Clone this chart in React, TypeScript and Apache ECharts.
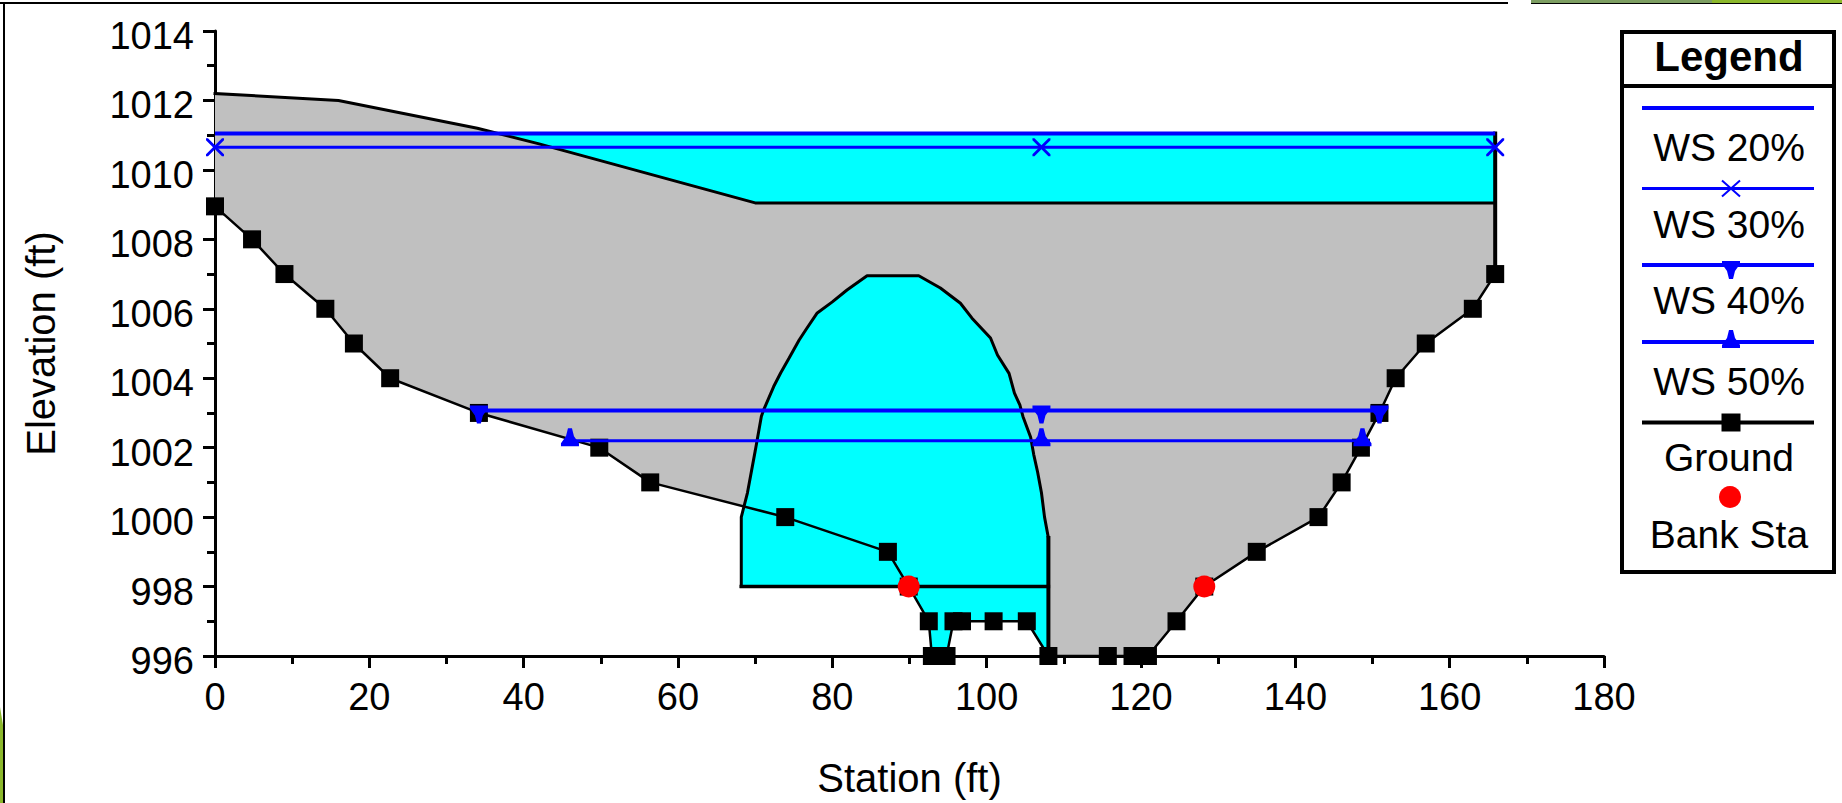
import React, { useEffect, useRef } from "react";
import * as echarts from "echarts";

type Pt = [number, number];

const xTicks = { min: 0, max: 180, interval: 20 };
const yTicks = { min: 996, max: 1014, interval: 2 };

const groundPts: Pt[] = [
  [0, 1008.95], [4.8, 1008], [9, 1007], [14.3, 1006], [18, 1005], [22.7, 1004], [34.2, 1003],
  [49.8, 1002], [56.4, 1001], [73.9, 1000], [87.2, 999], [89.9, 998], [92.5, 997], [92.9, 996],
  [94.8, 996], [95.7, 997], [96.8, 997], [100.9, 997], [105.2, 997], [108, 996], [115.7, 996],
  [118.9, 996], [120.9, 996], [124.6, 997], [128.2, 998], [135, 999], [143, 1000], [146, 1001],
  [148.5, 1002], [150.9, 1003], [153, 1004], [156.9, 1005], [163, 1006], [165.9, 1007],
];
const bankPts: Pt[] = [[89.9, 998], [128.2, 998]];
const roadPts: Pt[] = [[0, 1012.2], [16, 1012], [34, 1011.2], [42, 1010.75], [70, 1009.05], [165.9, 1009.05]];
const rightWall: Pt[] = [[165.9, 1011.05], [165.9, 1007]];
const archPts: Pt[] = [
  [68.2, 998], [68.2, 1000], [69, 1000.7], [70, 1001.9], [70.8, 1002.9], [71.1, 1003.09], [72.4, 1003.76],
  [73.3, 1004.15], [74.4, 1004.58], [75.7, 1005.1], [76.7, 1005.44], [78, 1005.87], [80, 1006.2],
  [81.9, 1006.54], [84.5, 1006.95], [91.2, 1006.95], [94, 1006.6], [96.6, 1006.16], [98.1, 1005.73],
  [100.5, 1005.16], [101.4, 1004.67], [102.9, 1004.14], [103.6, 1003.57], [104.3, 1003.23], [104.7, 1002.9],
  [105.7, 1002.3], [106.1, 1001.8], [106.6, 1001.3], [107.1, 1000.7], [107.5, 1000], [108, 999.4], [108, 998],
];
const archFloor: Pt[] = [[68.2, 998], [108, 998]];
const archWall: Pt[] = [[108, 999.4], [108, 996]];
const channelPts: Pt[] = [[108, 996], [105.2, 997], [96.8, 997], [95.7, 997], [94.8, 996], [92.9, 996], [92.5, 997], [89.9, 998]];
const waterTop: Pt[] = [[36.7, 1011.05], [165.9, 1011.05], [165.9, 1009.05], [70, 1009.05], [42, 1010.75]];

const ws20: Pt[] = [[0, 1011.05], [165.9, 1011.05]];
const ws30: Pt[] = [[0, 1010.65], [107.1, 1010.65], [165.9, 1010.65]];
const ws40: Pt[] = [[34.2, 1003.07], [107.1, 1003.07], [150.9, 1003.07]];
const ws50: Pt[] = [[46, 1002.2], [107.1, 1002.2], [148.7, 1002.2]];

const legendLabels = ["WS 20%", "WS 30%", "WS 40%", "WS 50%", "Ground", "Bank Sta"];

const BLUE = "#0000ff";
const STAR = "path://M0 0L2 0L9 7L16 0L18 0L18 2L11 9L18 16L18 18L16 18L9 11L2 18L0 18L0 16L7 9L0 2Z";
const DOWN = "path://M0 0L18 0L18 3L13 10L11 18L7 18L5 10L0 3Z";
const UP = "path://M0 18L18 18L18 15L13 8L11 0L7 0L5 8L0 15Z";
const FONT = "Liberation Sans";

function polygonSeries(points: Pt[], fill: string, z: number) {
  return {
    type: "custom",
    silent: true,
    z,
    coordinateSystem: "cartesian2d",
    data: [points[0]],
    renderItem: (_p: any, api: any) => ({
      type: "polygon",
      shape: { points: points.map((q) => api.coord(q)) },
      style: { fill, stroke: "none" },
    }),
  };
}
function outline(points: Pt[], width = 3, z = 3) {
  return {
    type: "line",
    data: points,
    silent: true,
    z,
    symbol: "none",
    lineStyle: { color: "#000", width, cap: "square" },
  };
}
function wsLine(name: string, points: Pt[], width: number, symbol: string, offset: number) {
  return {
    name,
    type: "line",
    data: points,
    silent: true,
    z: 6,
    symbol,
    symbolSize: 18,
    symbolOffset: [0, offset],
    showAllSymbol: true,
    itemStyle: { color: BLUE },
    lineStyle: { color: BLUE, width },
  };
}

const gray = "#c0c0c0";
const cyan = "#00ffff";

function legendGraphics() {
  const lx0 = 1642, lx1 = 1814, mx = 1731;
  const line = (y: number, w: number, c = BLUE) => ({
    type: "line",
    shape: { x1: lx0, y1: y, x2: lx1, y2: y },
    style: { stroke: c, lineWidth: w },
  });
  const label = (t: string, y: number) => ({
    type: "text",
    x: 1729,
    y,
    style: { text: t, fill: "#000", font: `39px "${FONT}"`, textAlign: "center", textVerticalAlign: "middle" },
  });
  const poly = (pts: number[][], cy: number) => ({
    type: "polygon",
    shape: { points: pts.map(([a, b]) => [mx + a - 9, cy + b - 9]) },
    style: { fill: BLUE },
  });
  const y30 = 188.5;
  return [
    { type: "rect", shape: { x: 1622, y: 32, width: 212, height: 540 }, style: { fill: "#fff", stroke: "#000", lineWidth: 4 } },
    { type: "line", shape: { x1: 1620, y1: 86, x2: 1836, y2: 86 }, style: { stroke: "#000", lineWidth: 4 } },
    { type: "text", x: 1729, y: 56, style: { text: "Legend", fill: "#000", font: `bold 42px "${FONT}"`, textAlign: "center", textVerticalAlign: "middle" } },
    line(108, 4),
    label(legendLabels[0], 147),
    line(y30, 3),
    { type: "line", shape: { x1: mx - 9, y1: y30 - 8, x2: mx + 9, y2: y30 + 8 }, style: { stroke: BLUE, lineWidth: 2 } },
    { type: "line", shape: { x1: mx - 9, y1: y30 + 8, x2: mx + 9, y2: y30 - 8 }, style: { stroke: BLUE, lineWidth: 2 } },
    label(legendLabels[1], 224),
    line(265, 4),
    poly([[0, 0], [18, 0], [18, 3], [13, 10], [11, 18], [7, 18], [5, 10], [0, 3]], 270),
    label(legendLabels[2], 300),
    line(342, 4),
    poly([[0, 18], [18, 18], [18, 15], [13, 8], [11, 0], [7, 0], [5, 8], [0, 15]], 339),
    label(legendLabels[3], 381),
    line(422.5, 4, "#000"),
    { type: "rect", shape: { x: mx - 9.5, y: 413.5, width: 19, height: 18 }, style: { fill: "#000" } },
    label(legendLabels[4], 457),
    { type: "circle", shape: { cx: 1730, cy: 497, r: 11 }, style: { fill: "#ff0000" } },
    label(legendLabels[5], 534),
  ];
}

const chromeGraphics = [
  { type: "rect", shape: { x: 0, y: 2, width: 1508, height: 2 }, style: { fill: "#000" } },
  { type: "rect", shape: { x: 1531, y: 0, width: 181, height: 3 }, style: { fill: "#7d9e62" } },
  { type: "rect", shape: { x: 1712, y: 0, width: 130, height: 3 }, style: { fill: "#8cb82c" } },
  { type: "rect", shape: { x: 1531, y: 3, width: 311, height: 1 }, style: { fill: "#000" } },
  { type: "rect", shape: { x: 3, y: 2, width: 2, height: 801 }, style: { fill: "#000" } },
  { type: "polygon", shape: { points: [[0, 707], [3, 725], [3, 803], [0, 803]] }, style: { fill: "#8cb82c" } },
];

export default function App() {
  const ref = useRef<HTMLDivElement>(null);
  useEffect(() => {
    const chart = echarts.init(ref.current!, undefined, { renderer: "svg" });
    const axisText = { color: "#000", fontFamily: FONT, fontSize: 38 };
    chart.setOption({
      animation: false,
      backgroundColor: "#fff",
      grid: { left: 215, right: 238, top: 31, bottom: 147, containLabel: false, outerBoundsMode: "none" },
      xAxis: {
        type: "value",
        ...xTicks,
        name: "Station (ft)",
        nameLocation: "middle",
        nameGap: 102,
        nameTextStyle: { color: "#000", fontFamily: FONT, fontSize: 40 },
        splitLine: { show: false },
        axisLine: { onZero: false, lineStyle: { color: "#000", width: 3 } },
        axisTick: { length: 12, lineStyle: { color: "#000", width: 3 } },
        minorTick: { show: true, splitNumber: 2, length: 8, lineStyle: { color: "#000", width: 3 } },
        axisLabel: { ...axisText, margin: 22 },
      },
      yAxis: {
        type: "value",
        ...yTicks,
        name: "Elevation (ft)",
        nameLocation: "middle",
        nameGap: 154,
        nameTextStyle: { color: "#000", fontFamily: FONT, fontSize: 40 },
        splitLine: { show: false },
        axisLine: { onZero: false, lineStyle: { color: "#000", width: 3 } },
        axisTick: { length: 12, lineStyle: { color: "#000", width: 3 } },
        minorTick: { show: true, splitNumber: 2, length: 8, lineStyle: { color: "#000", width: 3 } },
        axisLabel: { ...axisText, margin: 21, verticalAlign: "top", lineHeight: 10, formatter: (v: number) => String(v) },
      },
      series: [
        polygonSeries([...roadPts, ...rightWall.slice(1), ...[...groundPts].reverse()], gray, 1),
        polygonSeries(waterTop, cyan, 2),
        polygonSeries([...archPts, ...channelPts], cyan, 2),
        outline(roadPts),
        outline(rightWall, 4),
        outline(archPts),
        outline(archFloor, 3.5),
        outline(archWall, 4),
        {
          name: "Ground",
          type: "line",
          data: groundPts,
          silent: true,
          z: 5,
          symbol: "rect",
          symbolSize: 18,
          showAllSymbol: true,
          itemStyle: { color: "#000" },
          lineStyle: { color: "#000", width: 2.5 },
        },
        {
          name: "Bank Sta",
          type: "scatter",
          data: bankPts,
          silent: true,
          z: 7,
          symbol: "circle",
          symbolSize: 22,
          itemStyle: { color: "#ff0000", opacity: 1 },
        },
        wsLine("WS 20%", ws20, 4, "none", 0),
        wsLine("WS 30%", ws30, 3, STAR, 0),
        wsLine("WS 40%", ws40, 4, DOWN, 4),
        wsLine("WS 50%", ws50, 3, UP, -3.5),
      ],
      graphic: { elements: [...chromeGraphics, ...legendGraphics()] },
    });
    return () => chart.dispose();
  }, []);
  return <div ref={ref} style={{ position: "fixed", left: 0, top: 0, width: 1842, height: 803 }} />;
}
